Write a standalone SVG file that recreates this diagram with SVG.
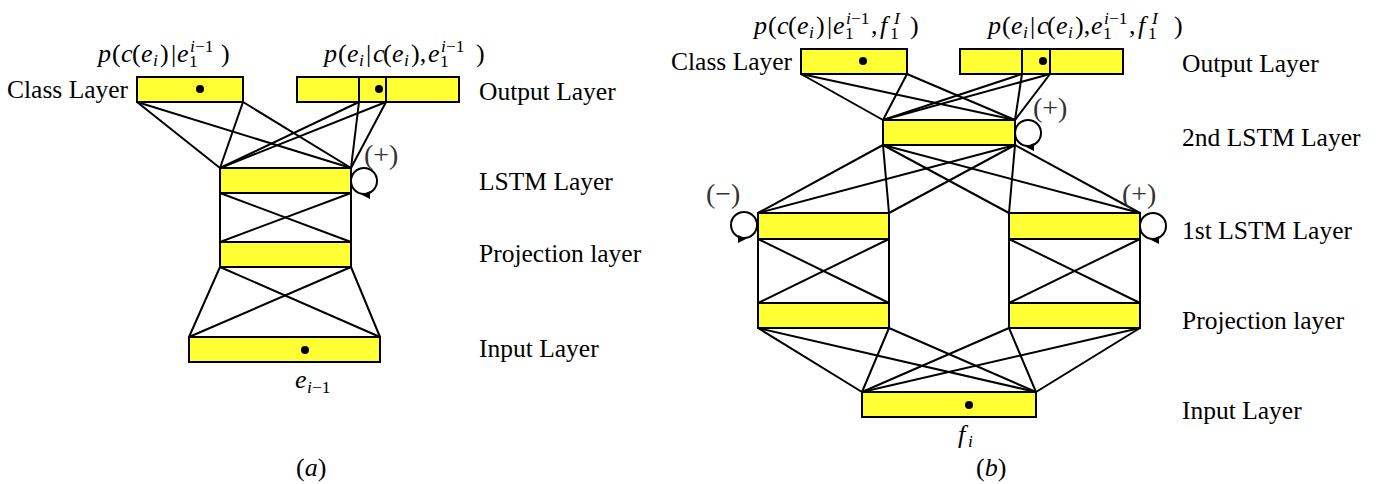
<svg xmlns="http://www.w3.org/2000/svg" xmlns:xlink="http://www.w3.org/1999/xlink" width="1379" height="484" viewBox="0 0 1379 484">
<style>
.box{fill:#ffff33;stroke:#000;stroke-width:2}
.dot{fill:#000}
.conn line{stroke:#000;stroke-width:2}
.loop{fill:none;stroke:#000;stroke-width:2}
.lbl{font-family:'Liberation Serif',serif;font-size:25.5px;fill:#000}
.f{font-family:'Liberation Serif',serif;font-size:26px;fill:#000}
.i{font-style:italic}
.s{font-size:17.5px}
.sign{font-family:'Liberation Serif',serif;font-size:28px;fill:#333}
</style>
<defs>
<path id="ah" d="M0,0 L8,-4 L8,4 Z" fill="#000"/>
</defs>
<rect width="1379" height="484" fill="#fff"/>

<g id="connectors" class="conn">
<!-- (a) -->
<line x1="137" y1="102" x2="220" y2="168"/>
<line x1="137" y1="102" x2="351" y2="168"/>
<line x1="243" y1="102" x2="220" y2="168"/>
<line x1="243" y1="102" x2="351" y2="168"/>
<line x1="359" y1="102" x2="220" y2="168"/>
<line x1="359" y1="102" x2="351" y2="168"/>
<line x1="386" y1="102" x2="220" y2="168"/>
<line x1="386" y1="102" x2="351" y2="168"/>
<line x1="220" y1="193" x2="220" y2="242"/>
<line x1="351" y1="193" x2="351" y2="242"/>
<line x1="220" y1="193" x2="351" y2="242"/>
<line x1="351" y1="193" x2="220" y2="242"/>
<line x1="220" y1="267" x2="189" y2="337"/>
<line x1="220" y1="267" x2="380" y2="337"/>
<line x1="351" y1="267" x2="189" y2="337"/>
<line x1="351" y1="267" x2="380" y2="337"/>
<!-- (b) -->
<line x1="801" y1="74" x2="883" y2="120"/>
<line x1="801" y1="74" x2="1015" y2="120"/>
<line x1="907" y1="74" x2="883" y2="120"/>
<line x1="907" y1="74" x2="1015" y2="120"/>
<line x1="1022" y1="74" x2="883" y2="120"/>
<line x1="1022" y1="74" x2="1015" y2="120"/>
<line x1="1050" y1="74" x2="883" y2="120"/>
<line x1="1050" y1="74" x2="1015" y2="120"/>
<line x1="883" y1="145" x2="758" y2="213"/>
<line x1="883" y1="145" x2="889" y2="213"/>
<line x1="883" y1="145" x2="1009" y2="213"/>
<line x1="883" y1="145" x2="1140" y2="213"/>
<line x1="1015" y1="145" x2="758" y2="213"/>
<line x1="1015" y1="145" x2="889" y2="213"/>
<line x1="1015" y1="145" x2="1009" y2="213"/>
<line x1="1015" y1="145" x2="1140" y2="213"/>
<line x1="758" y1="239" x2="758" y2="303"/>
<line x1="889" y1="239" x2="889" y2="303"/>
<line x1="758" y1="239" x2="889" y2="303"/>
<line x1="889" y1="239" x2="758" y2="303"/>
<line x1="1009" y1="239" x2="1009" y2="303"/>
<line x1="1140" y1="239" x2="1140" y2="303"/>
<line x1="1009" y1="239" x2="1140" y2="303"/>
<line x1="1140" y1="239" x2="1009" y2="303"/>
<line x1="758" y1="328" x2="862" y2="392"/>
<line x1="758" y1="328" x2="1036" y2="392"/>
<line x1="889" y1="328" x2="862" y2="392"/>
<line x1="889" y1="328" x2="1036" y2="392"/>
<line x1="1009" y1="328" x2="862" y2="392"/>
<line x1="1009" y1="328" x2="1036" y2="392"/>
<line x1="1140" y1="328" x2="862" y2="392"/>
<line x1="1140" y1="328" x2="1036" y2="392"/>
<!-- loops -->
<circle class="loop" cx="364" cy="181" r="13"/>
<use xlink:href="#ah" href="#ah" x="362" y="195"/>
<circle class="loop" cx="1028" cy="133" r="13"/>
<use xlink:href="#ah" href="#ah" x="1026" y="147"/>
<circle class="loop" cx="744" cy="225" r="13"/>
<use xlink:href="#ah" href="#ah" transform="translate(1490,0) scale(-1,1)" x="744" y="239"/>
<circle class="loop" cx="1153" cy="226" r="13"/>
<use xlink:href="#ah" href="#ah" x="1151" y="240"/>
</g>

<!-- ===== (a) ===== -->
<g id="a-class">
<rect class="box" x="137" y="77" width="106" height="25"/>
<circle class="dot" cx="200" cy="89" r="4"/>
<text class="lbl" x="7" y="98">Class Layer</text>
<text class="f"><tspan class="i" x="98" y="62">p</tspan><tspan x="112">(</tspan><tspan class="i" x="121">c</tspan><tspan x="132">(</tspan><tspan class="i" x="141">e</tspan><tspan class="i s" x="153" y="66">i</tspan><tspan x="160" y="62">)</tspan><tspan x="171">|</tspan><tspan class="i" x="177">e</tspan><tspan class="s" x="189" y="67">1</tspan><tspan class="s" x="190" y="52"><tspan class="i">i</tspan>−1</tspan><tspan x="221" y="62">)</tspan></text>
</g>
<g id="a-output">
<rect class="box" x="297" y="77" width="162" height="25"/>
<line x1="359" y1="77" x2="359" y2="102" stroke="#000" stroke-width="2"/>
<line x1="386" y1="77" x2="386" y2="102" stroke="#000" stroke-width="2"/>
<circle class="dot" cx="379" cy="89" r="4"/>
<text class="lbl" x="479" y="100">Output Layer</text>
<text class="f"><tspan class="i" x="324" y="62">p</tspan><tspan x="338">(</tspan><tspan class="i" x="347">e</tspan><tspan class="i s" x="359" y="66">i</tspan><tspan x="366" y="62">|</tspan><tspan class="i" x="373">c</tspan><tspan x="383">(</tspan><tspan class="i" x="392">e</tspan><tspan class="i s" x="404" y="66">i</tspan><tspan x="411" y="62">),</tspan><tspan class="i" x="428">e</tspan><tspan class="s" x="440" y="67">1</tspan><tspan class="s" x="441" y="52"><tspan class="i">i</tspan>−1</tspan><tspan x="476" y="62">)</tspan></text>
</g>
<g id="a-lstm">
<rect class="box" x="220" y="168" width="131" height="25"/>
<text class="lbl" x="479" y="190">LSTM Layer</text>
<text class="sign" x="364" y="164">(+)</text>
</g>
<g id="a-proj">
<rect class="box" x="220" y="242" width="131" height="25"/>
<text class="lbl" x="479" y="262">Projection layer</text>
</g>
<g id="a-input">
<rect class="box" x="189" y="337" width="191" height="25"/>
<circle class="dot" cx="305" cy="350" r="4"/>
<text class="lbl" x="479" y="357">Input Layer</text>
<text class="f"><tspan class="i" x="295" y="388">e</tspan><tspan class="s" x="307" y="393"><tspan class="i">i</tspan>−1</tspan></text>
</g>
<text id="a-caption" class="f" x="296" y="476">(<tspan class="i">a</tspan>)</text>

<!-- ===== (b) ===== -->
<g id="b-class">
<rect class="box" x="801" y="49" width="106" height="25"/>
<circle class="dot" cx="863" cy="61" r="4"/>
<text class="lbl" x="671" y="70">Class Layer</text>
<text class="f"><tspan class="i" x="754" y="34">p</tspan><tspan x="768">(</tspan><tspan class="i" x="777">c</tspan><tspan x="788">(</tspan><tspan class="i" x="797">e</tspan><tspan class="i s" x="809" y="38">i</tspan><tspan x="816" y="34">)</tspan><tspan x="827">|</tspan><tspan class="i" x="833">e</tspan><tspan class="s" x="845" y="39">1</tspan><tspan class="s" x="846" y="24"><tspan class="i">i</tspan>−1</tspan><tspan x="871" y="34">,</tspan><tspan class="i" x="880">f</tspan><tspan class="s" x="890" y="39">1</tspan><tspan class="i s" x="894" y="24">I</tspan><tspan x="910" y="34">)</tspan></text>
</g>
<g id="b-output">
<rect class="box" x="960" y="49" width="163" height="25"/>
<line x1="1022" y1="49" x2="1022" y2="74" stroke="#000" stroke-width="2"/>
<line x1="1050" y1="49" x2="1050" y2="74" stroke="#000" stroke-width="2"/>
<circle class="dot" cx="1043" cy="61" r="4"/>
<text class="lbl" x="1182" y="72">Output Layer</text>
<text class="f"><tspan class="i" x="988" y="34">p</tspan><tspan x="1002">(</tspan><tspan class="i" x="1011">e</tspan><tspan class="i s" x="1023" y="38">i</tspan><tspan x="1030" y="34">|</tspan><tspan class="i" x="1037">c</tspan><tspan x="1047">(</tspan><tspan class="i" x="1056">e</tspan><tspan class="i s" x="1068" y="38">i</tspan><tspan x="1075" y="34">),</tspan><tspan class="i" x="1091">e</tspan><tspan class="s" x="1103" y="39">1</tspan><tspan class="s" x="1104" y="24"><tspan class="i">i</tspan>−1</tspan><tspan x="1129" y="34">,</tspan><tspan class="i" x="1138">f</tspan><tspan class="s" x="1148" y="39">1</tspan><tspan class="i s" x="1152" y="24">I</tspan><tspan x="1174" y="34">)</tspan></text>
</g>
<g id="b-lstm2">
<rect class="box" x="883" y="120" width="132" height="25"/>
<text class="lbl" x="1182" y="146">2nd LSTM Layer</text>
<text class="sign" x="1033" y="117">(+)</text>
</g>
<g id="b-lstm1-left">
<rect class="box" x="758" y="213" width="131" height="26"/>
<text class="sign" x="706" y="203">(−)</text>
</g>
<g id="b-lstm1-right">
<rect class="box" x="1009" y="213" width="131" height="26"/>
<text class="sign" x="1122" y="203">(+)</text>
<text class="lbl" x="1182" y="239">1st LSTM Layer</text>
</g>
<g id="b-proj-left">
<rect class="box" x="758" y="303" width="131" height="25"/>
</g>
<g id="b-proj-right">
<rect class="box" x="1009" y="303" width="131" height="25"/>
<text class="lbl" x="1182" y="329">Projection layer</text>
</g>
<g id="b-input">
<rect class="box" x="862" y="392" width="174" height="25"/>
<circle class="dot" cx="969" cy="405" r="4"/>
<text class="lbl" x="1182" y="419">Input Layer</text>
<text class="f"><tspan class="i" x="958" y="443">f</tspan><tspan class="i s" x="968" y="447">i</tspan></text>
</g>
<text id="b-caption" class="f" x="976" y="476">(<tspan class="i">b</tspan>)</text>
</svg>
